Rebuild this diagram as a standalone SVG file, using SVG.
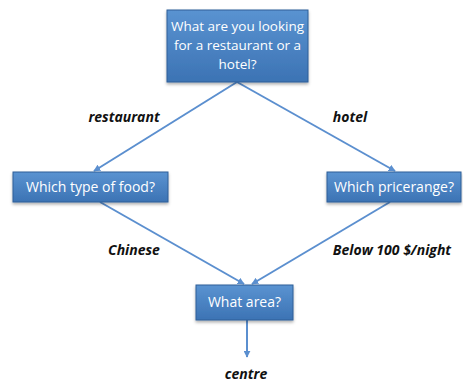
<svg xmlns="http://www.w3.org/2000/svg" width="463" height="383" viewBox="0 0 463 383">
  <defs>
    <linearGradient id="boxFill" x1="0" y1="0" x2="0" y2="1">
      <stop offset="0" stop-color="#5a93d1"/>
      <stop offset="1" stop-color="#3c73b4"/>
    </linearGradient>
    <filter id="shadow" x="-10%" y="-10%" width="120%" height="140%">
      <feDropShadow dx="0" dy="2" stdDeviation="1.5" flood-color="#000" flood-opacity="0.3"/>
    </filter>
    <marker id="arrow" viewBox="0 0 10 10" refX="9" refY="5" markerWidth="7" markerHeight="7" orient="auto-start-reverse" markerUnits="userSpaceOnUse">
      <path d="M0,0 L10,5 L0,10 z" fill="#5b8fcf"/>
    </marker>
  </defs>
  <style>
    .box { fill: url(#boxFill); stroke: #2f5f97; stroke-width: 1; filter: url(#shadow); }
    .boxText { font-family: "Open Sans", "Liberation Sans", sans-serif; font-size: 14px; fill: #ffffff; text-anchor: middle; }
    .boxText.multi { font-size: 13.5px; }
    .edge { stroke: #5b8fcf; stroke-width: 2; fill: none; marker-end: url(#arrow); }
    .label { font-family: "Open Sans", "Liberation Sans", sans-serif; font-size: 14px; font-weight: bold; font-style: italic; fill: #111111; text-anchor: middle; }
  </style>
  <rect width="463" height="383" fill="#ffffff"/>

  <g id="connectors">
    <line class="edge" x1="237" y1="82" x2="94" y2="171"/>
    <line class="edge" x1="237" y1="82" x2="395" y2="171"/>
    <line class="edge" x1="100" y1="202" x2="244" y2="284"/>
    <line class="edge" x1="390" y1="202" x2="252" y2="284"/>
    <line class="edge" x1="247" y1="320" x2="247" y2="357"/>
    <text class="label" x="124" y="122">restaurant</text>
    <text class="label" x="350" y="122">hotel</text>
    <text class="label" x="134" y="255">Chinese</text>
    <text class="label" x="392" y="255">Below 100 $/night</text>
    <text class="label" x="246" y="379">centre</text>
  </g>

  <g id="node-start">
    <rect class="box" x="167" y="10" width="141" height="72"/>
    <text class="boxText multi" x="237.5" y="31">What are you looking</text>
    <text class="boxText multi" x="237.5" y="50">for a restaurant or a</text>
    <text class="boxText multi" x="237.5" y="69">hotel?</text>
  </g>

  <g id="node-food">
    <rect class="box" x="13" y="172" width="155" height="30"/>
    <text class="boxText" x="90.5" y="192">Which type of food?</text>
  </g>

  <g id="node-price">
    <rect class="box" x="327" y="172" width="134" height="30"/>
    <text class="boxText" x="394" y="192">Which pricerange?</text>
  </g>

  <g id="node-area">
    <rect class="box" x="196" y="285" width="97" height="35"/>
    <text class="boxText" x="244.5" y="307">What area?</text>
  </g>
</svg>
